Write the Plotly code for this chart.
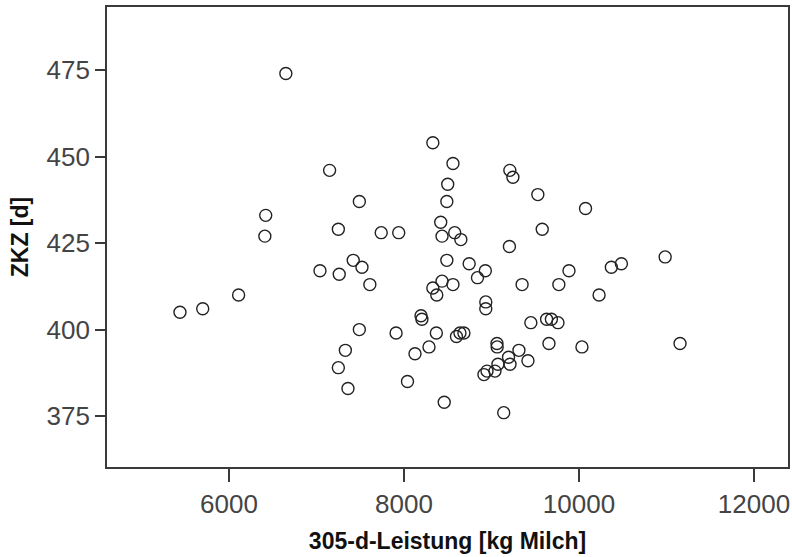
import plotly.graph_objects as go

# 305-d-Leistung [kg Milch]
milk = [6650, 7150, 7490, 6420, 6410, 7250, 7740, 7940, 7420, 7520,
        7040, 7260, 7610, 5440, 5700, 6110, 7490, 7910, 7330, 7250,
        7360, 8330, 8560, 9210, 9245, 8500, 8490, 9530, 10075, 8420,
        8435, 8580, 8650, 9580, 9205, 8490, 8745, 8930, 8840, 9886,
        10370, 10485, 10985, 8330, 8435, 8560, 8375, 9350, 9770, 10230,
        8935, 8935, 8195, 8205, 9450, 9630, 9685, 9760, 8370, 8600,
        8640, 8685, 8126, 8286, 8040, 8460, 9140, 9063, 9065, 9314,
        9195, 9212, 9074, 9417, 9040, 8949, 8914, 9657, 10034, 11155]
# ZKZ [d]
zkz = [474, 446, 437, 433, 427, 429, 428, 428, 420, 418,
       417, 416, 413, 405, 406, 410, 400, 399, 394, 389,
       383, 454, 448, 446, 444, 442, 437, 439, 435, 431,
       427, 428, 426, 429, 424, 420, 419, 417, 415, 417,
       418, 419, 421, 412, 414, 413, 410, 413, 413, 410,
       408, 406, 404, 403, 402, 403, 403, 402, 399, 398,
       399, 399, 393, 395, 385, 379, 376, 396, 395, 394,
       392, 390, 390, 391, 388, 388, 387, 396, 395, 396]

x_ticks = [6000, 8000, 10000, 12000]
y_ticks = [375, 400, 425, 450, 475]

fig = go.Figure(go.Scatter(
    x=milk, y=zkz, mode="markers",
    marker=dict(symbol="circle-open", size=12, color="#222222",
                line=dict(width=1.4, color="#222222")),
    showlegend=False,
))

tick_font = dict(family="Liberation Sans, Arial, sans-serif", size=26, color="#444444")
title_font = dict(family="Liberation Sans, Arial, sans-serif", size=23, color="#111111")

fig.update_layout(
    width=792, height=557,
    margin=dict(l=107, r=4, t=7, b=90, autoexpand=False),
    paper_bgcolor="white", plot_bgcolor="white",
    xaxis=dict(
        range=[4606, 12389], tickvals=x_ticks, ticktext=[str(v) for v in x_ticks],
        showgrid=False, zeroline=False, automargin=False,
        showline=True, linecolor="#3a3a3a", linewidth=1.6, mirror=True,
        ticks="outside", ticklen=13, tickwidth=1.6, tickcolor="#3a3a3a",
        tickfont=tick_font,
        title=dict(text="<b>305-d-Leistung [kg Milch]</b>", font=title_font, standoff=15),
    ),
    yaxis=dict(
        range=[360.3, 493.2], tickvals=y_ticks, ticktext=[str(v) for v in y_ticks],
        showgrid=False, zeroline=False, automargin=False,
        showline=True, linecolor="#3a3a3a", linewidth=1.6, mirror=True,
        ticks="outside", ticklen=10, tickwidth=1.6, tickcolor="#3a3a3a",
        tickfont=tick_font,
        title=dict(text="<b>ZKZ [d]</b>", font=title_font, standoff=12),
    ),
)

fig.write_html(
    "out.html",
    config={"displayModeBar": False},
    post_script="document.body.style.margin='0px';document.body.style.overflow='hidden';",
)
